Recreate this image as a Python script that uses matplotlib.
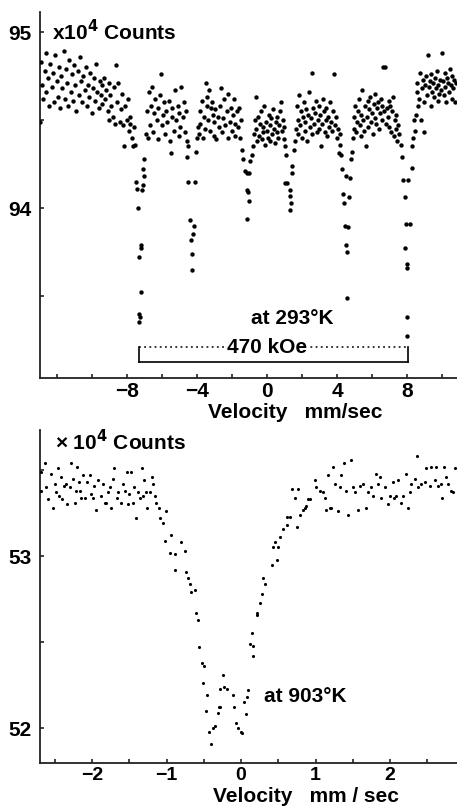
import matplotlib
matplotlib.use("Agg")
import matplotlib.pyplot as plt
from matplotlib.ticker import FixedLocator

# ---------------- data: 293 K spectrum (velocity mm/s, counts x1e4) ----------------
velocity_293 = [
    -12.95, -12.9, -12.85, -12.8, -12.7, -12.65, -12.6, -12.5, -12.45, -12.4,
    -12.3, -12.2, -12.15, -12.1, -12.0, -11.95, -11.9, -11.8, -11.75, -11.7,
    -11.6, -11.55, -11.5, -11.4, -11.35, -11.3, -11.2, -11.15, -11.1, -11.0,
    -10.95, -10.9, -10.8, -10.75, -10.7, -10.6, -10.55, -10.5, -10.4, -10.35,
    -10.3, -10.2, -10.15, -10.1, -10.0, -9.95, -9.9, -9.8, -9.75, -9.7,
    -9.6, -9.55, -9.5,
    -9.45, -9.4, -9.3, -9.25, -9.2, -9.1, -9.05, -9.0, -8.95, -8.9,
    -8.8, -8.75, -8.7, -8.6, -8.55, -8.5, -8.4, -8.35, -8.3, -8.2,
    -8.15, -8.1, -8.0, -7.95, -7.9, -7.85, -7.8, -7.7, -7.65, -7.6,
    -7.5, -7.45, -7.1, -7.15, -7.35, -7.2, -7.18, -7.32, -7.22, -7.3,
    -7.28, -7.32, -7.0, -7.1, -7.05, -7.55, -6.9,
    -6.85, -6.8, -6.75, -6.7, -6.6, -6.55, -6.5, -6.45, -6.4, -6.3,
    -6.25, -6.2, -6.1, -6.05, -6.0, -5.95, -5.9, -5.8, -5.75, -5.7,
    -5.6, -5.55, -5.5, -5.45, -5.4, -5.3, -5.25, -5.2, -5.1, -5.05,
    -5.0, -4.95, -4.9, -4.8, -4.75, -4.7, -4.6, -4.55,
    -4.52, -4.55, -4.05, -4.5, -4.1, -4.4, -4.17, -4.23, -4.34, -4.29,
    -4.29, -4.0, -3.95,
    -3.9, -3.85, -3.8, -3.7, -3.65, -3.6, -3.55, -3.5, -3.45, -3.4,
    -3.35, -3.3, -3.25, -3.2, -3.15, -3.1, -3.05, -3.0, -2.95, -2.9,
    -2.8, -2.75, -2.7, -2.6, -2.55, -2.5, -2.45, -2.4, -2.3, -2.25,
    -2.2, -2.1, -2.05, -2.0, -1.95, -1.9, -1.85, -1.8, -1.7, -1.65,
    -1.6, -1.55, -1.5,
    -1.4, -1.35, -0.85, -0.8, -1.25, -1.0, -1.15, -1.14, -1.1, -1.05,
    -1.12, -0.95,
    -0.75, -0.7, -0.65, -0.6, -0.55, -0.5, -0.45, -0.4, -0.35, -0.3,
    -0.25, -0.2, -0.15, -0.1, -0.05, 0.0, 0.05, 0.1, 0.15, 0.2,
    0.25, 0.3, 0.35, 0.4, 0.45, 0.5, 0.55, 0.6, 0.65, 0.7,
    0.75, 0.8, 0.85, 0.9, 0.95, 1.0,
    1.05, 1.1, 1.43, 1.45, 1.05, 1.3, 1.33, 1.35, 1.3, 1.15,
    1.55, 1.6,
    1.65, 1.7, 1.75, 1.8, 1.85, 1.9, 1.95, 2.0, 2.05, 2.1,
    2.15, 2.2, 2.25, 2.3, 2.35, 2.4, 2.45, 2.5, 2.55, 2.6,
    2.65, 2.7, 2.75, 2.8, 2.85, 2.9, 2.95, 3.0, 3.05, 3.1,
    3.15, 3.2, 3.25, 3.3, 3.35, 3.4, 3.45, 3.5, 3.55, 3.6,
    3.65, 3.7, 3.75, 3.85, 3.9, 3.95, 4.0, 4.05, 4.1, 4.15,
    4.2,
    4.3, 4.35, 4.4, 4.45, 4.5, 4.55, 4.6, 4.65, 4.7, 4.75,
    4.5, 4.8, 4.85, 4.25,
    4.9, 4.95, 5.0, 5.05, 5.1, 5.15, 5.2, 5.25, 5.3, 5.35,
    5.4, 5.45, 5.5, 5.55, 5.6, 5.65, 5.7, 5.75, 5.8, 5.85,
    5.9, 5.95, 6.0, 6.05, 6.1, 6.15, 6.2, 6.25, 6.3, 6.35,
    6.4, 6.45, 6.5, 6.55, 6.6, 6.65, 6.7, 6.75, 6.8, 6.85,
    6.9, 6.95, 7.0, 7.05, 7.1, 7.15, 7.2, 7.25, 7.3, 7.35,
    7.4, 7.45, 7.5, 7.55,
    7.7, 7.8, 7.9, 7.95, 7.9, 7.98, 8.0, 8.0, 7.98, 8.05,
    8.28, 8.3, 7.65, 8.17,
    8.35, 8.4, 8.45, 8.5, 8.55, 8.6, 8.65, 8.7, 8.75, 8.8,
    8.85, 8.9, 8.95, 9.0, 9.05, 9.1, 9.15, 9.2, 9.25, 9.3,
    9.35, 9.4, 9.45, 9.5, 9.55, 9.6, 9.65, 9.7, 9.75, 9.8,
    9.85, 9.9, 9.95, 10.0, 10.05, 10.1, 10.15, 10.2, 10.25, 10.3,
    10.35, 10.4, 10.45, 10.5, 10.55, 10.6, 10.65, 10.7, 10.75, 10.8,
]
counts_293 = [
    94.49, 94.83, 94.70, 94.62, 94.78, 94.88, 94.66, 94.74, 94.58, 94.82,
    94.69, 94.77, 94.60, 94.87, 94.72, 94.63, 94.80, 94.57, 94.75, 94.68,
    94.89, 94.62, 94.79, 94.71, 94.58, 94.84, 94.66, 94.76, 94.61, 94.81,
    94.70, 94.55, 94.78, 94.64, 94.86, 94.72, 94.60, 94.75, 94.67, 94.80,
    94.58, 94.70, 94.63, 94.77, 94.54, 94.68, 94.74, 94.61, 94.82, 94.66,
    94.57, 94.72, 94.64,
    94.70, 94.59, 94.74, 94.62, 94.67, 94.55, 94.71, 94.50, 94.64, 94.58,
    94.52, 94.69, 94.48, 94.81, 94.60, 94.71, 94.49, 94.56, 94.65, 94.47,
    94.35, 94.58, 94.50, 94.62, 94.44, 94.52, 94.48, 94.40, 94.35, 94.46,
    94.15, 94.11, 94.13, 94.10, 94.00, 93.79, 93.77, 93.72, 93.52, 93.40,
    93.38, 93.35, 94.28, 94.22, 94.18, 94.36, 94.42,
    94.55, 94.40, 94.66, 94.47, 94.58, 94.69, 94.43, 94.54, 94.62, 94.50,
    94.39, 94.57, 94.64, 94.76, 94.47, 94.53, 94.60, 94.42, 94.55, 94.49,
    94.61, 94.38, 94.31, 94.57, 94.52, 94.44, 94.67, 94.50, 94.58, 94.41,
    94.54, 94.46, 94.69, 94.52, 94.60, 94.43, 94.55, 94.38,
    94.35, 94.29, 94.32, 94.15, 94.15, 93.93, 93.90, 93.85, 93.82, 93.74,
    93.65, 94.40, 94.46,
    94.42, 94.55, 94.48, 94.61, 94.40, 94.52, 94.45, 94.71, 94.58, 94.63,
    94.50, 94.67, 94.44, 94.57, 94.60, 94.53, 94.41, 94.49, 94.56, 94.39,
    94.52, 94.46, 94.58, 94.68, 94.43, 94.51, 94.62, 94.47, 94.55, 94.40,
    94.65, 94.49, 94.57, 94.44, 94.53, 94.62, 94.48, 94.41, 94.55, 94.46,
    94.57, 94.40, 94.50,
    94.33, 94.28, 94.30, 94.35, 94.21, 94.20, 94.20, 94.10, 94.09, 94.04,
    93.94, 94.27,
    94.42, 94.50, 94.63, 94.45, 94.38, 94.52, 94.41, 94.48, 94.55, 94.39,
    94.46, 94.43, 94.58, 94.36, 94.49, 94.44, 94.40, 94.53, 94.47, 94.38,
    94.51, 94.42, 94.56, 94.45, 94.37, 94.49, 94.43, 94.52, 94.40, 94.47,
    94.55, 94.60, 94.44, 94.50, 94.39, 94.46,
    94.35, 94.30, 94.24, 94.20, 94.14, 94.10, 94.07, 94.03, 93.99, 94.14,
    94.33, 94.38,
    94.45, 94.58, 94.50, 94.42, 94.64, 94.47, 94.55, 94.40, 94.52, 94.60,
    94.44, 94.49, 94.56, 94.38, 94.53, 94.66, 94.46, 94.51, 94.42, 94.77,
    94.57, 94.48, 94.54, 94.61, 94.43, 94.50, 94.58, 94.45, 94.53, 94.35,
    94.48, 94.62, 94.55, 94.43, 94.50, 94.57, 94.41, 94.52, 94.46, 94.60,
    94.49, 94.44, 94.55, 94.76, 94.47, 94.52, 94.40, 94.45, 94.31, 94.42,
    94.36,
    94.22, 94.08, 94.03, 93.90, 93.79, 93.75, 93.49, 93.89, 94.06, 94.17,
    94.18, 94.28, 94.32, 94.30,
    94.40, 94.52, 94.45, 94.58, 94.43, 94.49, 94.55, 94.62, 94.47, 94.41,
    94.53, 94.67, 94.50, 94.44, 94.58, 94.35, 94.52, 94.61, 94.46, 94.56,
    94.63, 94.49, 94.54, 94.42, 94.59, 94.51, 94.65, 94.48, 94.57, 94.60,
    94.45, 94.54, 94.62, 94.50, 94.58, 94.80, 94.55, 94.80, 94.48, 94.57,
    94.52, 94.61, 94.46, 94.58, 94.43, 94.55, 94.63, 94.41, 94.50, 94.45,
    94.53, 94.38, 94.47, 94.42,
    94.29, 94.16, 94.06, 93.91, 93.77, 93.68, 93.66, 93.38, 93.27, 94.16,
    94.23, 94.35, 94.36, 93.91,
    94.40, 94.50, 94.44, 94.53, 94.66, 94.71, 94.58, 94.62, 94.77, 94.50,
    94.68, 94.73, 94.60, 94.43, 94.70, 94.75, 94.64, 94.87, 94.69, 94.72,
    94.58, 94.76, 94.66, 94.71, 94.63, 94.74, 94.68, 94.78, 94.61, 94.70,
    94.65, 94.73, 94.67, 94.88, 94.72, 94.64, 94.77, 94.69, 94.60, 94.74,
    94.71, 94.66, 94.79, 94.70, 94.62, 94.75, 94.68, 94.73, 94.60, 94.71,
]

# ---------------- data: 903 K spectrum ----------------
velocity_903 = [
    -2.69, -2.68, -2.63, -2.62, -2.59, -2.55, -2.52, -2.50, -2.48, -2.46,
    -2.44, -2.42, -2.40, -2.37, -2.35, -2.33, -2.30, -2.28, -2.26, -2.23,
    -2.21, -2.20, -2.18, -2.16, -2.15, -2.12, -2.09, -2.07, -2.03, -2.01,
    -1.99, -1.97, -1.95, -1.92, -1.88, -1.85, -1.83, -1.81, -1.79, -1.76,
    -1.74, -1.72, -1.70, -1.67, -1.65, -1.61, -1.58, -1.56, -1.53, -1.52,
    -1.50, -1.48, -1.45, -1.43, -1.41, -1.38, -1.36, -1.33, -1.32, -1.30,
    -1.28, -1.26, -1.22, -1.20, -1.18, -1.15, -1.14, -1.10, -1.09,
    -1.05, -1.01, -0.94, -1.02, -0.95, -0.89, -0.75, -0.81, -0.89, -0.74,
    -0.71, -0.68, -0.67, -0.62, -0.60, -0.58, -0.56, -0.52, -0.50, -0.51,
    -0.46, -0.47, -0.43, -0.38, -0.35, -0.40, -0.31, -0.30, -0.28, -0.24,
    -0.23, -0.19, -0.11, -0.09, -0.28, -0.07, -0.04, 0.00, 0.01, 0.04,
    0.08, 0.09, 0.07, 0.16, 0.16, 0.12, 0.15, 0.21, 0.21, 0.26,
    0.28, 0.32, 0.30, 0.42, 0.48, 0.43, 0.50, 0.46, 0.52, 0.56,
    0.62, 0.66, 0.75, 0.62, 0.79, 0.83, 0.90, 0.87, 0.72, 0.68,
    0.77, 0.86, 0.93, 0.99, 1.01, 1.06, 1.10, 1.13, 1.17, 1.23,
    1.14, 1.19, 1.21, 1.30, 1.26, 1.33, 1.34, 1.38, 1.48, 1.41,
    1.44, 1.50, 1.53, 1.57, 1.60, 1.64, 1.68, 1.70, 1.74, 1.77,
    1.81, 1.84, 1.87, 1.88, 1.93, 1.97, 2.00, 2.04, 2.05, 2.08,
    2.11, 2.15, 2.17, 2.21, 2.24, 2.27, 2.28, 2.34, 2.36, 2.38,
    2.42, 2.47, 2.48, 2.54, 2.55, 2.60, 2.62, 2.64, 2.68, 2.70,
    2.72, 2.75, 2.78, 2.82, 2.85, 2.87,
]
counts_903 = [
    53.49, 53.38, 53.54, 53.40, 53.33, 53.48, 53.28, 53.42, 53.37, 53.51,
    53.35, 53.46, 53.33, 53.41, 53.42, 53.30, 53.40, 53.54, 53.45, 53.31,
    53.38, 53.52, 53.43, 53.38, 53.34, 53.47, 53.34, 53.43, 53.47, 53.36,
    53.34, 53.41, 53.27, 53.44, 53.35, 53.42, 53.31, 53.31, 53.37, 53.40,
    53.28, 53.45, 53.51, 53.34, 53.37, 53.31, 53.42, 53.38, 53.49, 53.30,
    53.36, 53.49, 53.31, 53.40, 53.22, 53.37, 53.34, 53.51, 53.35, 53.44,
    53.37, 53.28, 53.37, 53.46, 53.42, 53.35, 53.31, 53.28, 53.22,
    53.19, 53.26, 53.12, 53.09, 53.02, 53.01, 53.03, 53.08, 52.92, 52.91,
    52.87, 52.84, 52.79, 52.80, 52.67, 52.63, 52.47, 52.38, 52.36, 52.26,
    52.19, 52.10, 51.98, 52.00, 52.01, 51.91, 52.09, 52.12, 52.23, 52.31,
    52.24, 52.23, 52.19, 52.12, 52.12, 52.03, 52.00, 51.98, 51.97, 52.15,
    52.18, 52.22, 52.08, 52.42, 52.48, 52.49, 52.55, 52.66, 52.67, 52.73,
    52.78, 52.84, 52.87, 52.95, 52.98, 53.05, 53.05, 53.08, 53.11, 53.16,
    53.18, 53.23, 53.17, 53.23, 53.24, 53.27, 53.33, 53.29, 53.34, 53.39,
    53.39, 53.28, 53.33, 53.44, 53.40, 53.38, 53.37, 53.34, 53.47, 53.52,
    53.27, 53.28, 53.28, 53.26, 53.42, 53.40, 53.47, 53.54, 53.56, 53.38,
    53.24, 53.40, 53.37, 53.27, 53.41, 53.42, 53.28, 53.37, 53.40, 53.35,
    53.48, 53.42, 53.46, 53.34, 53.40, 53.30, 53.35, 53.43, 53.34, 53.35,
    53.44, 53.31, 53.35, 53.48, 53.28, 53.37, 53.42, 53.45, 53.58, 53.40,
    53.42, 53.43, 53.51, 53.41, 53.52, 53.44, 53.52, 53.41, 53.42, 53.34,
    53.52, 53.46, 53.42, 53.38, 53.37, 53.51,
]

# tick positions and labels
top_ticks_major = [-8, -4, 0, 4, 8]
top_tick_labels = ["−8", "−4", "0", "4", "8"]
top_ticks_minor = [-12, -10, -6, -2, 2, 6, 10]
top_y_major = [94, 95]
top_y_labels = ["94", "95"]
top_y_minor = [93.5, 94.5]
bot_ticks_major = [-2, -1, 0, 1, 2]
bot_tick_labels = ["−2", "−1", "0", "1", "2"]
bot_ticks_minor = [-2.5, -1.5, -0.5, 0.5, 1.5, 2.5]
bot_y_major = [52, 53]
bot_y_labels = ["52", "53"]
bot_y_minor = [52.5, 53.5]
field_label = "470 kOe"
field_span = [-7.31, 8.06]

FONT = ["Liberation Sans", "DejaVu Sans"]
plt.rcParams["font.family"] = FONT
plt.rcParams["font.weight"] = "bold"
plt.rcParams["mathtext.default"] = "bf"

W, H = 457, 806
fig = plt.figure(figsize=(W / 100, H / 100), dpi=100)
fig.patch.set_facecolor("white")


def fx(px):
    return px / W


def fy(py):
    return 1 - py / H


def style_axes(ax, xmaj, xlab, xmin, ymaj, ylab, ymin, xfs):
    for s in ("top", "right"):
        ax.spines[s].set_visible(False)
    for s in ("left", "bottom"):
        ax.spines[s].set_linewidth(1.3)
        ax.spines[s].set_color("#222222")
    ax.xaxis.set_major_locator(FixedLocator(xmaj))
    ax.xaxis.set_minor_locator(FixedLocator(xmin))
    ax.yaxis.set_major_locator(FixedLocator(ymaj))
    ax.yaxis.set_minor_locator(FixedLocator(ymin))
    ax.tick_params(which="both", direction="in", length=3, width=1.2, color="#222222")
    ax.tick_params(axis="x", which="major", pad=3)
    ax.tick_params(axis="y", which="major", pad=6)
    ax.set_xticklabels(xlab, fontsize=xfs, fontweight="bold")
    ax.set_yticklabels(ylab, fontsize=15, fontweight="bold")


# ---------------- top panel ----------------
ax1 = fig.add_axes([fx(40), fy(378), 1 - fx(40), (378 - 12) / H])
ax1.scatter(velocity_293, counts_293, s=10, color="black", linewidths=0, zorder=3)
ax1.set_xlim(-12.97, 10.86)
ax1.set_ylim(93.034, 95.114)
style_axes(ax1, top_ticks_major, top_tick_labels, top_ticks_minor,
           top_y_major, top_y_labels, top_y_minor, 15)

# 470 kOe bracket
x0, x1 = field_span
ax1.plot([x0, x1], [93.125, 93.125], color="black", lw=1.2)
ax1.plot([x0, x0], [93.125, 93.21], color="black", lw=1.2)
ax1.plot([x1, x1], [93.125, 93.21], color="black", lw=1.2)
ax1.plot([x0, x1], [93.21, 93.21], color="black", lw=1.1, linestyle=(0, (1.2, 2.2)))
ax1.text(0.0, 93.21, field_label, ha="center", va="center", fontsize=15,
         fontweight="bold", bbox=dict(facecolor="white", edgecolor="none", pad=0.5))
fig.text(fx(292), fy(318), "at 293°K", ha="center", va="center", fontsize=15, fontweight="bold")
fig.text(fx(52), fy(32), "x10$^{4}$ Counts", ha="left", va="center", fontsize=15,
         fontweight="bold")
fig.text(fx(208), fy(413), "Velocity   mm/sec", ha="left", va="center", fontsize=15,
         fontweight="bold")

# ---------------- bottom panel ----------------
ax2 = fig.add_axes([fx(40), fy(763), 1 - fx(40), (763 - 430) / H])
ax2.scatter(velocity_903, counts_903, s=5, color="black", linewidths=0, zorder=3)
ax2.set_xlim(-2.698, 2.899)
ax2.set_ylim(51.797, 53.733)
style_axes(ax2, bot_ticks_major, bot_tick_labels, bot_ticks_minor,
           bot_y_major, bot_y_labels, bot_y_minor, 14)
fig.text(fx(305), fy(697), "at 903°K", ha="center", va="center", fontsize=15, fontweight="bold")
fig.text(fx(55), fy(442), "× 10$^{4}$ Counts", ha="left", va="center", fontsize=15,
         fontweight="bold")
fig.text(fx(213), fy(796), "Velocity   mm / sec", ha="left", va="center", fontsize=15,
         fontweight="bold")

fig.savefig("out.png", dpi=100)
